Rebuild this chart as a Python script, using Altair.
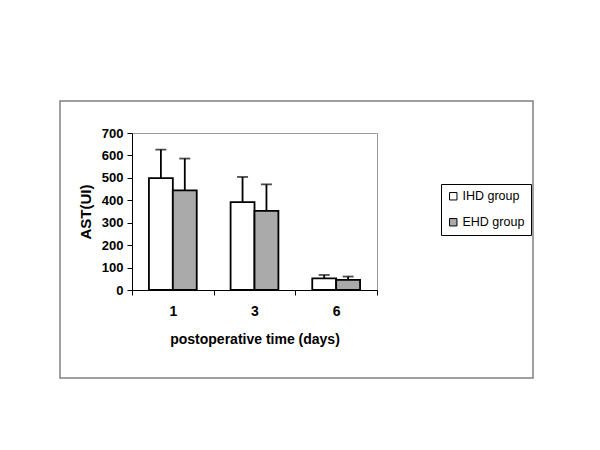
import altair as alt
import pandas as pd

days = ["1", "3", "6"]
groups = ["IHD group", "EHD group"]
ihd_mean = [499, 392, 52]
ihd_upper = [626, 504, 67]
ehd_mean = [444, 353, 45]
ehd_upper = [586, 471, 60]

rows = []
for i, d in enumerate(days):
    rows.append({"day": d, "group": groups[0], "mean": ihd_mean[i], "upper": ihd_upper[i]})
    rows.append({"day": d, "group": groups[1], "mean": ehd_mean[i], "upper": ehd_upper[i]})
df = pd.DataFrame(rows)

FONT = "Liberation Sans"

x_enc = alt.X(
    "day:N",
    sort=days,
    scale=alt.Scale(paddingInner=0, paddingOuter=0),
    axis=alt.Axis(
        title="postoperative time (days)",
        labelAngle=0,
        tickBand="extent",
        tickSize=5,
        tickColor="black",
        domainColor="black",
        labelPadding=9,
        labelFontSize=14,
        labelFontWeight="bold",
        labelColor="black",
        titleFontSize=14,
        titleFontWeight="bold",
        titleColor="black",
        titlePadding=14,
        labelFont=FONT,
        titleFont=FONT,
    ),
)
xo_enc = alt.XOffset("group:N", sort=groups, scale=alt.Scale(paddingOuter=0.708, paddingInner=0))
y_scale = alt.Scale(domain=[0, 700], nice=False)
y_axis = alt.Axis(
    title="AST(UI)",
    values=list(range(0, 701, 100)),
    labelOverlap=False,
    grid=False,
    tickSize=5,
    tickColor="black",
    domainColor="black",
    labelFontSize=13,
    labelFontWeight="bold",
    labelColor="black",
    labelPadding=4,
    titleFontSize=15,
    titleFontWeight="bold",
    titleColor="black",
    titlePadding=8,
    labelFont=FONT,
    titleFont=FONT,
)

base = alt.Chart(df).encode(x=x_enc, xOffset=xo_enc)

bars = base.mark_bar(stroke="black", strokeWidth=1.8).encode(
    y=alt.Y("mean:Q", scale=y_scale, axis=y_axis),
    fill=alt.Fill(
        "group:N",
        sort=groups,
        scale=alt.Scale(domain=groups, range=["white", "#aaaaaa"]),
        legend=alt.Legend(
            title=None,
            orient="none",
            legendX=309,
            legendY=51,
            strokeColor="black",
            padding=6,
            symbolType="square",
            symbolSize=55,
            symbolStrokeColor="black",
            symbolStrokeWidth=1,
            labelFontSize=12.5,
            labelFont=FONT,
            labelColor="black",
            labelOffset=3,
            rowPadding=13,
        ),
    ),
)

rule = base.mark_rule(color="black", strokeWidth=1.8).encode(
    y=alt.Y("mean:Q", scale=y_scale, axis=y_axis), y2="upper:Q"
)
cap = base.mark_tick(color="black", thickness=1.8, size=11).encode(
    y=alt.Y("upper:Q", scale=y_scale, axis=y_axis)
)

frame = alt.Chart(pd.DataFrame({"a": [0]})).mark_rect(
    fill="transparent", stroke="#808080", strokeWidth=1.5
).encode(
    x=alt.value(-72), x2=alt.value(401), y=alt.value(-32), y2=alt.value(245)
)

chart = alt.layer(frame, bars, rule, cap).properties(
    width=245,
    height=157,
    autosize=alt.AutoSizeParams(type="none"),
    padding={"left": 124, "top": 125, "right": 210, "bottom": 140},
).configure_view(stroke="#999999", strokeWidth=1)

chart.save("out.html", embed_options={"renderer": "svg", "actions": False})
